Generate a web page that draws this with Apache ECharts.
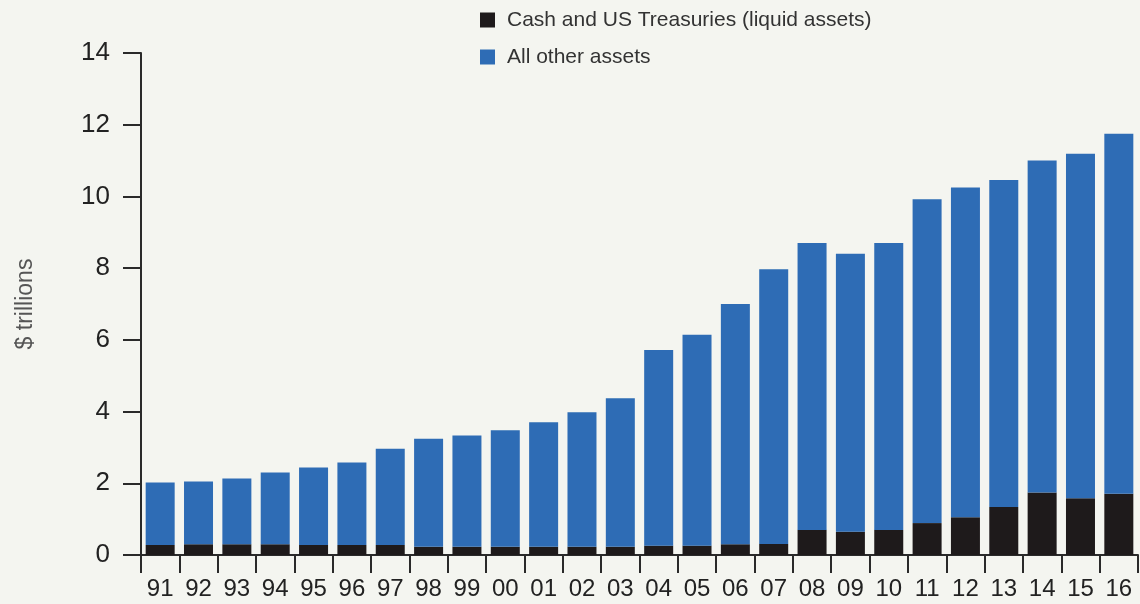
<!DOCTYPE html>
<html>
<head>
<meta charset="utf-8">
<title>Liquid assets vs all other assets</title>
<script src="https://cdn.jsdelivr.net/npm/echarts@6/dist/echarts.min.js"></script>
<style>
  html, body { margin: 0; padding: 0; background: #f4f5f0; }
  #chart { width: 1140px; height: 604px; }
</style>
</head>
<body>
<div id="chart"></div>
<script>
// years (two-digit labels)
var years = ['91', '92', '93', '94', '95', '96', '97', '98', '99', '00', '01', '02', '03',
  '04', '05', '06', '07', '08', '09', '10', '11', '12', '13', '14', '15', '16'];

// $ trillions
var liquidAssets = [0.28, 0.30, 0.30, 0.30, 0.28, 0.28, 0.28, 0.23, 0.23, 0.23, 0.23, 0.23, 0.23,
  0.26, 0.26, 0.30, 0.31, 0.70, 0.65, 0.70, 0.89, 1.05, 1.34, 1.74, 1.58, 1.71];
var otherAssets = [1.74, 1.75, 1.83, 2.00, 2.16, 2.30, 2.68, 3.01, 3.10, 3.25, 3.47, 3.75, 4.14,
  5.46, 5.88, 6.70, 7.66, 8.00, 7.75, 8.00, 9.03, 9.20, 9.12, 9.26, 9.61, 10.04];

var yTicks = [0, 2, 4, 6, 8, 10, 12, 14];

var font = "'Liberation Sans', Arial, sans-serif";

var chart = echarts.init(document.getElementById('chart'));

var option = {
  backgroundColor: '#f4f5f0',
  animation: false,
  legend: {
    orient: 'vertical',
    left: 475,
    top: 4,
    itemWidth: 15,
    itemHeight: 15,
    itemGap: 15,
    icon: 'rect',
    textStyle: {
      fontFamily: font,
      fontSize: 21,
      color: '#333',
      lineHeight: 22,
      padding: [0, 0, 0, 7]
    },
    data: ['Cash and US Treasuries (liquid assets)', 'All other assets']
  },
  grid: {
    left: 141,
    right: 2,
    top: 53,
    bottom: 49
  },
  xAxis: {
    type: 'category',
    data: years,
    axisLine: { show: true, lineStyle: { color: '#2a2a2a', width: 2 } },
    axisTick: { show: true, length: 18, lineStyle: { color: '#2a2a2a', width: 2 } },
    axisLabel: {
      margin: 22,
      fontFamily: font,
      fontSize: 24,
      color: '#222'
    }
  },
  yAxis: {
    type: 'value',
    min: yTicks[0],
    max: yTicks[yTicks.length - 1],
    interval: 2,
    name: '$ trillions',
    nameLocation: 'middle',
    nameRotate: 90,
    nameGap: 104,
    nameTextStyle: {
      fontFamily: font,
      fontSize: 23,
      color: '#555'
    },
    axisLine: { show: true, lineStyle: { color: '#2a2a2a', width: 2 } },
    axisTick: { show: true, length: 18, lineStyle: { color: '#2a2a2a', width: 2 } },
    splitLine: { show: false },
    axisLabel: {
      margin: 31,
      fontFamily: font,
      fontSize: 26,
      color: '#222'
    }
  },
  series: [
    {
      name: 'Cash and US Treasuries (liquid assets)',
      type: 'bar',
      stack: 'total',
      barWidth: 29,
      itemStyle: { color: '#1e1a1b' },
      data: liquidAssets
    },
    {
      name: 'All other assets',
      type: 'bar',
      stack: 'total',
      barWidth: 29,
      itemStyle: { color: '#2e6cb5' },
      data: otherAssets
    }
  ]
};

chart.setOption(option);
</script>
</body>
</html>
